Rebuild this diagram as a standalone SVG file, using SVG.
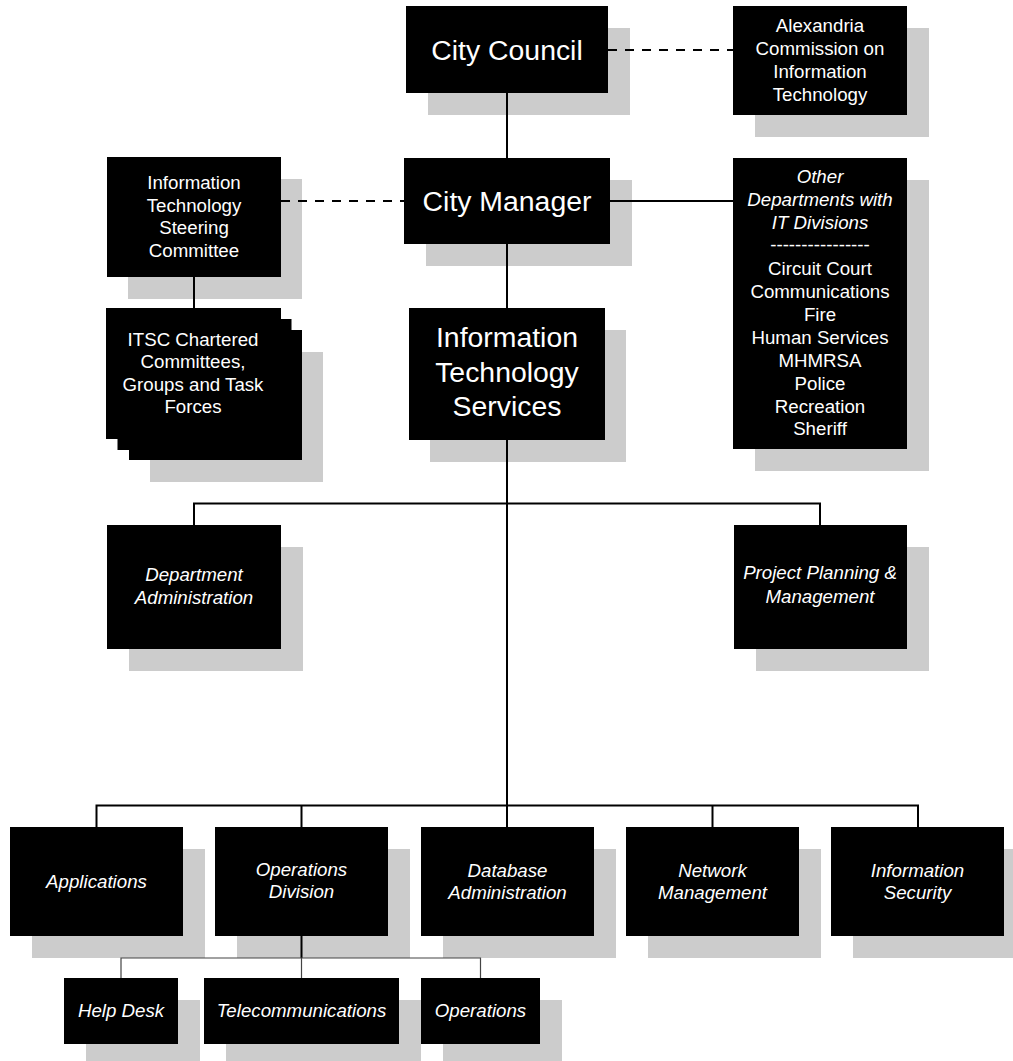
<svg xmlns="http://www.w3.org/2000/svg" width="1013" height="1061" viewBox="0 0 1013 1061">
<style>
.bx{fill:#000}
.sh{fill:#cccccc}
.t{font-family:'Liberation Sans',Arial,sans-serif;fill:#fff;text-anchor:middle;font-size:18.7px}
.big{font-size:28.4px}
.i{font-style:italic}
.ln{stroke:#000;stroke-width:2;fill:none}
.dash{stroke-dasharray:9 8}
.thin{stroke:#444;stroke-width:1.2;fill:none}
</style>
<rect width="1013" height="1061" fill="#fff"/>
<g id="city-council">
<rect class="sh" x="428" y="28" width="202" height="87"/>
<rect class="bx" x="406" y="6" width="202" height="87"/>
<text class="t big" x="507" y="60">City Council</text>
</g>
<g id="alexandria-commission">
<rect class="sh" x="755" y="28" width="174" height="109"/>
<rect class="bx" x="733" y="6" width="174" height="109"/>
<text class="t" x="820" y="32">Alexandria</text>
<text class="t" x="820" y="55">Commission on</text>
<text class="t" x="820" y="78">Information</text>
<text class="t" x="820" y="101">Technology</text>
</g>
<g id="city-manager">
<rect class="sh" x="426" y="180" width="206" height="86"/>
<rect class="bx" x="404" y="158" width="206" height="86"/>
<text class="t big" x="507" y="211">City Manager</text>
</g>
<g id="it-steering-committee">
<rect class="sh" x="128" y="179" width="174" height="120"/>
<rect class="bx" x="107" y="157" width="174" height="120"/>
<text class="t" x="194" y="189">Information</text>
<text class="t" x="194" y="212">Technology</text>
<text class="t" x="194" y="234">Steering</text>
<text class="t" x="194" y="257">Committee</text>
</g>
<g id="other-departments">
<rect class="sh" x="755" y="180" width="174" height="291"/>
<rect class="bx" x="733" y="158" width="174" height="291"/>
<text class="t i" x="820" y="183">Other</text>
<text class="t i" x="820" y="206">Departments with</text>
<text class="t i" x="820" y="229">IT Divisions</text>
<text class="t" x="820" y="251">----------------</text>
<text class="t" x="820" y="275">Circuit Court</text>
<text class="t" x="820" y="298">Communications</text>
<text class="t" x="820" y="321">Fire</text>
<text class="t" x="820" y="344">Human Services</text>
<text class="t" x="820" y="367">MHMRSA</text>
<text class="t" x="820" y="390">Police</text>
<text class="t" x="820" y="413">Recreation</text>
<text class="t" x="820" y="435">Sheriff</text>
</g>
<g id="itsc-chartered">
<rect class="sh" x="150" y="352" width="173" height="130"/>
<rect class="bx" x="129" y="330" width="173" height="130"/>
<rect class="bx" x="117.5" y="319" width="174" height="131"/>
<rect class="bx" x="106" y="308" width="175" height="131"/>
<text class="t" x="193" y="346">ITSC Chartered</text>
<text class="t" x="193" y="368">Committees,</text>
<text class="t" x="193" y="391">Groups and Task</text>
<text class="t" x="193" y="413">Forces</text>
</g>
<g id="it-services">
<rect class="sh" x="430" y="330" width="196" height="132"/>
<rect class="bx" x="409" y="308" width="196" height="132"/>
<text class="t big" x="507" y="347">Information</text>
<text class="t big" x="507" y="382">Technology</text>
<text class="t big" x="507" y="416">Services</text>
</g>
<g id="department-administration">
<rect class="sh" x="129" y="547" width="174" height="124"/>
<rect class="bx" x="107" y="525" width="174" height="124"/>
<text class="t i" x="194" y="581">Department</text>
<text class="t i" x="194" y="604">Administration</text>
</g>
<g id="project-planning">
<rect class="sh" x="756" y="547" width="173" height="124"/>
<rect class="bx" x="734" y="525" width="173" height="124"/>
<text class="t i" x="820" y="579">Project Planning &amp;</text>
<text class="t i" x="820" y="603">Management</text>
</g>
<g id="applications">
<rect class="sh" x="32" y="849" width="173" height="109"/>
<rect class="bx" x="10" y="827" width="173" height="109"/>
<text class="t i" x="96.5" y="888">Applications</text>
</g>
<g id="operations-division">
<rect class="sh" x="237" y="849" width="173" height="109"/>
<rect class="bx" x="215" y="827" width="173" height="109"/>
<text class="t i" x="301.5" y="876">Operations</text>
<text class="t i" x="301.5" y="898">Division</text>
</g>
<g id="database-administration">
<rect class="sh" x="443" y="849" width="173" height="109"/>
<rect class="bx" x="421" y="827" width="173" height="109"/>
<text class="t i" x="507.5" y="877">Database</text>
<text class="t i" x="507.5" y="899">Administration</text>
</g>
<g id="network-management">
<rect class="sh" x="648" y="849" width="173" height="109"/>
<rect class="bx" x="626" y="827" width="173" height="109"/>
<text class="t i" x="712.5" y="877">Network</text>
<text class="t i" x="712.5" y="899">Management</text>
</g>
<g id="information-security">
<rect class="sh" x="853" y="849" width="173" height="109"/>
<rect class="bx" x="831" y="827" width="173" height="109"/>
<text class="t i" x="917.5" y="877">Information</text>
<text class="t i" x="917.5" y="899">Security</text>
</g>
<g id="help-desk">
<rect class="sh" x="86" y="1000" width="114" height="66"/>
<rect class="bx" x="64" y="978" width="114" height="66"/>
<text class="t i" x="121" y="1017">Help Desk</text>
</g>
<g id="telecommunications">
<rect class="sh" x="226" y="1000" width="195" height="66"/>
<rect class="bx" x="204" y="978" width="195" height="66"/>
<text class="t i" x="301.5" y="1017">Telecommunications</text>
</g>
<g id="operations">
<rect class="sh" x="443" y="1000" width="119" height="66"/>
<rect class="bx" x="421" y="978" width="119" height="66"/>
<text class="t i" x="480.5" y="1017">Operations</text>
</g>
<g id="connectors">
<path class="ln" d="M507,93 V158"/>
<path class="ln" d="M507,244 V308"/>
<path class="ln" d="M610,201 H733"/>
<path class="ln dash" d="M608,50 H733"/>
<path class="ln dash" d="M281,201 H404"/>
<path class="ln" d="M194,277 V308"/>
<path class="ln" d="M507,440 V827"/>
<path class="ln" d="M194,525 V503.5 H820 V525"/>
<path class="ln" d="M96.5,827 V805.5 H918 V827"/>
<path class="ln" d="M301.5,827 V805.5"/>
<path class="ln" d="M712.5,827 V805.5"/>
<path class="ln" d="M301.5,936 V958"/>
<path class="thin" d="M121,978 V958 H480.5 V978"/>
<path class="thin" d="M301.5,958 V978"/>
</g>
</svg>
